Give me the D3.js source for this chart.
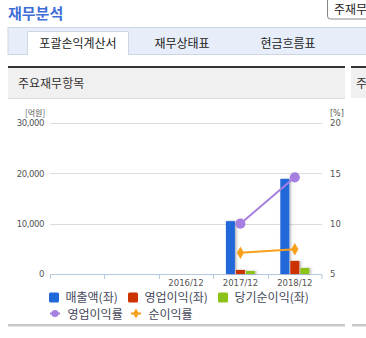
<!DOCTYPE html>
<html>
<head>
<meta charset="utf-8">
<script src="https://cdn.jsdelivr.net/npm/d3@7"></script>
<style>
  body { margin: 0; background: #fff; overflow: hidden; }
  svg { display: block; }
</style>
</head>
<body>
<div id="chart"></div>
<script>
// data
const categories = ['', ' ', '2016/12', '2017/12', '2018/12'];
const barSeries  = ['매출액(좌)', '영업이익(좌)', '당기순이익(좌)'];
const sales      = [null, null, null, 10500, 18900];
const opIncome   = [null, null, null, 800, 2600];
const netIncome  = [null, null, null, 600, 1200];
const opMargin   = [null, null, null, 10.0, 14.6];
const netMargin  = [null, null, null, 7.1, 7.45];
const lineSeries = ['영업이익률', '순이익률'];
const leftTicks  = [0, 10000, 20000, 30000];
const rightTicks = [5, 10, 15, 20];
const tabs       = ['포괄손익계산서', '재무상태표', '현금흐름표'];

const W = 366, H = 338;
const KR = '"Noto Sans CJK KR", "Noto Sans", sans-serif';
const NUM = '"DejaVu Sans", "Liberation Sans", sans-serif';
const barColors  = ['#2168db', '#cc3300', '#8cc319'];
const lineColors = ['#a77fe0', '#f8a01c'];

const svg = d3.select('#chart').append('svg').attr('width', W).attr('height', H);

// soft shadow for bars
const defs = svg.append('defs');
const f = defs.append('filter').attr('id', 'sh').attr('x', '-30%').attr('y', '-10%')
  .attr('width', '180%').attr('height', '130%');
f.append('feDropShadow').attr('dx', 1.5).attr('dy', 0).attr('stdDeviation', 0.8)
  .attr('flood-color', '#000').attr('flood-opacity', 0.3);

// ---- page chrome ----
svg.append('text').attr('x', 8).attr('y', 19).text('재무분석')
  .attr('font-family', KR).attr('font-size', 15).attr('font-weight', 700).attr('fill', '#3f6fd6');

svg.append('rect').attr('x', 327.5).attr('y', -4).attr('width', 60).attr('height', 23).attr('rx', 3)
  .attr('fill', '#fff').attr('stroke', '#888');
svg.append('text').attr('x', 334).attr('y', 14).text('주재무')
  .attr('font-family', KR).attr('font-size', 12).attr('fill', '#222');

svg.append('rect').attr('x', 8).attr('y', 27.5).attr('width', W).attr('height', 27)
  .attr('fill', '#e8eef9').attr('stroke', '#cdd6e4');
svg.append('path').attr('d', 'M27.5,55 V31.5 H128.5 V55').attr('fill', '#fff').attr('stroke', '#cdd6e4');
const tabX = [78, 182, 288];
tabs.forEach((t, i) => {
  svg.append('text').attr('x', tabX[i]).attr('y', 48).attr('text-anchor', 'middle').text(t)
    .attr('font-family', KR).attr('font-size', 12).attr('fill', '#222');
});

// panel header
svg.append('rect').attr('x', 8).attr('y', 67).attr('width', 337).attr('height', 31).attr('fill', '#f0f0f0');
svg.append('rect').attr('x', 351).attr('y', 67).attr('width', 20).attr('height', 31).attr('fill', '#f0f0f0');
svg.append('rect').attr('x', 8).attr('y', 66).attr('width', 337).attr('height', 2).attr('fill', '#333');
svg.append('rect').attr('x', 351).attr('y', 66).attr('width', 20).attr('height', 2).attr('fill', '#333');
svg.append('line').attr('x1', 8).attr('x2', 345).attr('y1', 98.5).attr('y2', 98.5).attr('stroke', '#ddd');
svg.append('text').attr('x', 18).attr('y', 88).text('주요재무항목')
  .attr('font-family', KR).attr('font-size', 12).attr('fill', '#333');
svg.append('text').attr('x', 356).attr('y', 88).text('주')
  .attr('font-family', KR).attr('font-size', 12).attr('fill', '#333');

// bottom separator
svg.append('rect').attr('x', 8).attr('y', 324).attr('width', 337).attr('height', 2.5).attr('fill', '#c8c8c8');
svg.append('rect').attr('x', 352).attr('y', 324).attr('width', 20).attr('height', 2.5).attr('fill', '#c8c8c8');

// ---- chart ----
const pLeft = 50, pRight = 322, pTop = 123, pBottom = 274;
const x0 = d3.scaleBand().domain(categories).range([pLeft, pRight]);
const x1 = d3.scaleBand().domain(barSeries)
  .range([x0.bandwidth() / 2 - 14.5, x0.bandwidth() / 2 + 14.5]).paddingInner(0.1);
const yL = d3.scaleLinear().domain([0, 30000]).range([pBottom, pTop]);
const yR = d3.scaleLinear().domain([5, 20]).range([pBottom, pTop]);

// grid
svg.append('g').selectAll('line').data(leftTicks.slice(1)).join('line')
  .attr('x1', pLeft).attr('x2', pRight)
  .attr('y1', d => Math.round(yL(d)) + 0.5).attr('y2', d => Math.round(yL(d)) + 0.5)
  .attr('stroke', '#dcdcdc');

// left axis
const axL = svg.append('g').attr('transform', `translate(${pLeft - 6},0)`)
  .call(d3.axisLeft(yL).tickValues(leftTicks).tickFormat(d3.format(',')).tickSize(0).tickPadding(0));
axL.select('.domain').remove();
axL.selectAll('text').attr('font-family', NUM).attr('font-size', 8.5).attr('fill', '#555').attr('letter-spacing', -0.4);

// right axis
const axR = svg.append('g').attr('transform', `translate(${pRight + 8},0)`)
  .call(d3.axisRight(yR).tickValues(rightTicks).tickSize(0).tickPadding(0));
axR.select('.domain').remove();
axR.selectAll('text').attr('font-family', NUM).attr('font-size', 8.5).attr('fill', '#555');

svg.append('text').attr('x', 25).attr('y', 116).text('[억원]')
  .attr('font-family', KR).attr('font-size', 8).attr('fill', '#555');
svg.append('text').attr('x', 330).attr('y', 116).text('[%]')
  .attr('font-family', NUM).attr('font-size', 8).attr('fill', '#555');

// x axis
const axX = svg.append('g').attr('transform', `translate(0,${pBottom})`)
  .call(d3.axisBottom(x0).tickSize(0).tickPadding(6));
axX.select('.domain').attr('stroke', '#b6c8dc').attr('d', `M${pLeft + 0.5},5V0.5H${pRight}V5`);
axX.selectAll('text').attr('font-family', NUM).attr('font-size', 8.5).attr('fill', '#555');
axX.append('g').selectAll('line').data(categories.slice(1)).join('line')
  .attr('x1', d => Math.round(x0(d)) + 0.5).attr('x2', d => Math.round(x0(d)) + 0.5)
  .attr('y1', 0).attr('y2', 5).attr('stroke', '#b6c8dc');

// bars
const barData = [sales, opIncome, netIncome];
const bars = [];
categories.forEach((c, i) => barSeries.forEach((s, j) => {
  if (barData[j][i] != null) bars.push({ c, s, v: barData[j][i], j });
}));
svg.append('g').attr('filter', 'url(#sh)').selectAll('rect').data(bars).join('rect')
  .attr('x', d => x0(d.c) + x1(d.s))
  .attr('width', x1.bandwidth())
  .attr('y', d => yL(d.v))
  .attr('height', d => pBottom - yL(d.v))
  .attr('fill', d => barColors[d.j]);

// lines
const lineData = [opMargin, netMargin];
const cx = c => x0(c) + x0.bandwidth() / 2;
const line = d3.line().defined(d => d.v != null).x(d => cx(d.c)).y(d => yR(d.v));
lineData.forEach((arr, k) => {
  const pts = categories.map((c, i) => ({ c, v: arr[i] }));
  svg.append('path').datum(pts).attr('d', line)
    .attr('fill', 'none').attr('stroke', lineColors[k]).attr('stroke-width', 2);
  const sym = k === 0 ? d3.symbolCircle : d3.symbolDiamond;
  const size = k === 0 ? 80 : 45;
  svg.append('g').selectAll('path').data(pts.filter(d => d.v != null)).join('path')
    .attr('transform', d => `translate(${cx(d.c)},${yR(d.v)})`)
    .attr('d', d3.symbol(sym, size)).attr('fill', lineColors[k]);
});

// legend
const lg = svg.append('g').attr('font-family', KR).attr('font-size', 12).attr('fill', '#44485a');
const legX = [49, 128, 218];
barSeries.forEach((s, j) => {
  lg.append('rect').attr('x', legX[j]).attr('y', 292.5).attr('width', 10).attr('height', 10).attr('rx', 1.5)
    .attr('fill', barColors[j]);
  lg.append('text').attr('x', legX[j] + 16.5).attr('y', 302).text(s);
});
const leg2X = [50, 131];
lineSeries.forEach((s, k) => {
  const y = 313.5;
  lg.append('line').attr('x1', leg2X[k]).attr('x2', leg2X[k] + 10).attr('y1', y).attr('y2', y)
    .attr('stroke', lineColors[k]).attr('stroke-width', 2);
  lg.append('path').attr('transform', `translate(${leg2X[k] + 5},${y})`)
    .attr('d', d3.symbol(k === 0 ? d3.symbolCircle : d3.symbolDiamond, k === 0 ? 40 : 30))
    .attr('fill', lineColors[k]);
  lg.append('text').attr('x', leg2X[k] + 17.5).attr('y', y + 5).text(s);
});
</script>
</body>
</html>
